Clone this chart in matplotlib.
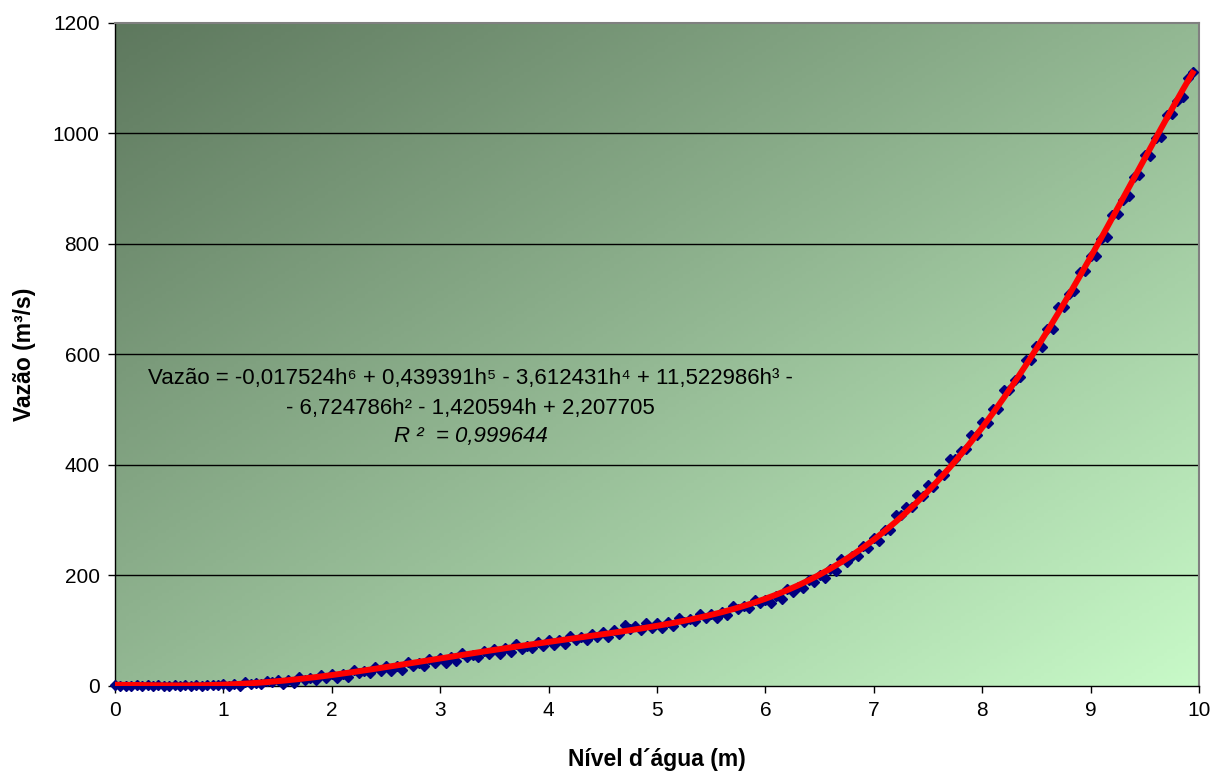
import numpy as np
import matplotlib
matplotlib.use("Agg")
import matplotlib.pyplot as plt
from matplotlib.colors import LinearSegmentedColormap

plt.rcParams['font.family'] = ['Liberation Sans', 'DejaVu Sans']

# water level (m), one reading every 5 cm plus the last one
nivel = np.append(np.round(np.arange(0, 9.91, 0.05), 2), 9.94)

# discharge (m3/s), in blocks of 0.5 m
vazao = [
    1.2, 0.0, 0.8, 0.0, 1.6, 0.3, 0.9, 0.0, 1.4, 0.2,
    0.4, 1.0, 0.1, 1.5, 0.6, 1.9, 0.8, 2.2, 1.3, 2.6,
    4.2, 0.1, 4.2, 0.8, 7.0, 3.7, 5.8, 3.9, 9.2, 6.4,
    10.7, 4.3, 11.4, 6.0, 16.6, 11.2, 14.9, 11.5, 20.1, 15.2,
    21.4, 13.8, 22.5, 16.1, 29.0, 22.6, 27.0, 23.1, 33.5, 27.8,
    35.4, 26.5, 36.4, 28.9, 43.8, 36.3, 41.3, 36.6, 48.7, 41.9,
    51.1, 42.2, 52.1, 44.6, 59.4, 51.9, 56.9, 52.2, 64.2, 57.3,
    67.6, 58.5, 68.4, 60.7, 75.4, 67.8, 72.7, 67.9, 79.8, 72.8,
    83.0, 73.9, 83.7, 75.9, 90.6, 82.9, 87.8, 82.9, 94.8, 87.8,
    98.4, 89.0, 101.1, 93.2, 110.9, 103.1, 108.6, 101.9, 114.4, 105.4,
    113.1, 104.6, 115.0, 107.9, 123.2, 116.1, 121.6, 117.2, 129.7, 123.3,
    131.0, 123.4, 134.7, 128.5, 144.8, 138.6, 145.0, 141.6, 155.0, 149.5,
    156.2, 151.0, 162.8, 158.0, 175.7, 170.9, 178.8, 176.9, 191.7, 187.7,
    201.3, 195.6, 211.6, 207.5, 229.1, 225.0, 235.3, 234.5, 252.8, 249.5,
    267.3, 262.5, 283.1, 282.2, 310.1, 309.2, 323.5, 324.1, 346.4, 344.4,
    363.7, 360.2, 383.7, 381.2, 411.7, 410.3, 425.8, 428.3, 454.8, 454.3,
    477.5, 475.2, 501.7, 501.7, 535.8, 535.8, 554.6, 558.9, 589.7, 590.8,
    615.8, 614.3, 645.3, 646.3, 685.7, 686.7, 709.3, 715.1, 749.7, 751.9,
    777.6, 777.5, 809.8, 812.1, 852.8, 855.1, 879.0, 886.1, 922.0, 925.5,
    960.5, 959.9, 991.7, 993.5, 1033.7, 1035.5, 1058.9, 1065.5, 1100.9,
    1112.0,
]

# trend line coefficients shown on the chart (h^6 ... h^0)
coef = [-0.017524, 0.439391, -3.612431, 11.522986, -6.724786, -1.420594, 2.207705]

fig = plt.figure(figsize=(12.25, 7.76), dpi=100)
ax = fig.add_axes([0.0939, 0.116, 0.8849, 0.8544])

# diagonal green gradient (dark top-left, light bottom-right)
u = np.linspace(0, 1, 300)
v = np.linspace(0, 1, 200)
U, V = np.meshgrid(u, v)
grad = (U + V) / 2
cmap = LinearSegmentedColormap.from_list("g", ["#5e785e", "#93b893", "#c8fac8"])
ax.imshow(grad, extent=[0, 10, 0, 1200], aspect='auto', cmap=cmap,
          origin='upper', zorder=0)
ax.set_xlim(0, 10)
ax.set_ylim(0, 1200)

for yv in range(200, 1200, 200):
    ax.axhline(yv, color='black', lw=1.0, zorder=1)

ax.plot(nivel, vazao, linestyle='none', marker='D', markersize=5.3,
        color='#000080', zorder=3, clip_on=False)
ax.plot(nivel, np.polyval(coef, nivel), color='#ff0000', lw=4.3, zorder=4)

ax.set_xticks(range(0, 11))
ax.set_yticks(range(0, 1201, 200))
ax.tick_params(axis='both', direction='out', length=5, width=1, labelsize=15,
               pad=6, colors='black')
for s in ['top', 'right']:
    ax.spines[s].set_color('#808080')
    ax.spines[s].set_linewidth(1.5)
for s in ['left', 'bottom']:
    ax.spines[s].set_color('black')
    ax.spines[s].set_linewidth(1)

ax.set_xlabel('Nível d´água (m)', fontsize=16.5, fontweight='bold', labelpad=20)
ax.set_ylabel('Vazão (m³/s)', fontsize=16.5, fontweight='bold', labelpad=12)

ax.text(3.28, 557, 'Vazão = -0,017524h⁶ + 0,439391h⁵ - 3,612431h⁴ + 11,522986h³ -',
        ha='center', va='center', fontsize=16)
ax.text(3.28, 503, '- 6,724786h² - 1,420594h + 2,207705',
        ha='center', va='center', fontsize=16)
ax.text(3.28, 451, 'R ²  = 0,999644', ha='center', va='center', fontsize=16,
        style='italic')

fig.savefig('out.png', dpi=100)
